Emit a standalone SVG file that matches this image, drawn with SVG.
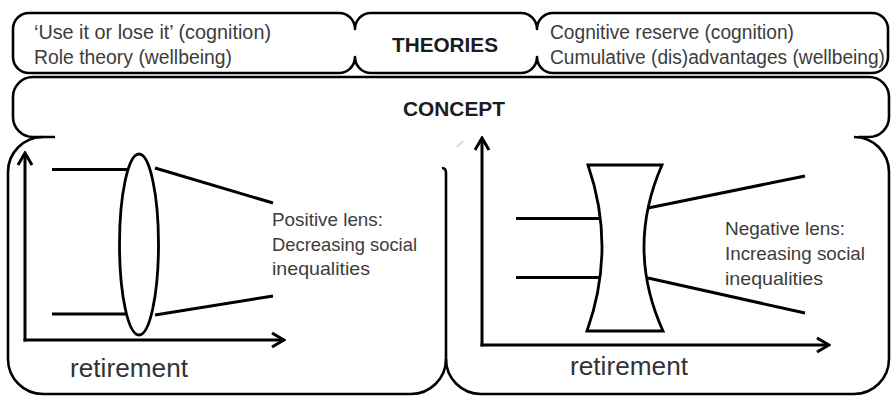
<svg xmlns="http://www.w3.org/2000/svg" width="891" height="396" viewBox="0 0 891 396">
<style>
.frame{fill:none;stroke:#000;stroke-width:2.6;stroke-linejoin:round}
.ln{fill:none;stroke:#000;stroke-width:3;stroke-linecap:butt}
.lens{fill:#fff;stroke:#000;stroke-width:2.8;stroke-linejoin:miter}
.t{font-family:"Liberation Sans",Arial,sans-serif;fill:#3c3c3c}
.body{font-size:19.5px}
.lab{font-size:18.5px}
.ret{font-size:26px;fill:#333}
.title{font-family:"Liberation Sans",Arial,sans-serif;font-size:20px;font-weight:bold;fill:#1c1c1c}
</style>
<defs>
<marker id="arr" viewBox="-14 -9 16 18" markerWidth="16" markerHeight="18" refX="0" refY="0" orient="auto" markerUnits="userSpaceOnUse">
<path d="M-12,-7 L0,0 L-12,7" fill="none" stroke="#000" stroke-width="3" stroke-linejoin="miter"/>
</marker>
</defs>
<rect x="0" y="0" width="891" height="396" fill="#fff"/>

<g id="theories">
<path class="frame" d="M29,13 H339 A16 16 0 0 1 355,29 A16 16 0 0 1 371,13 H521 A16 16 0 0 1 537,29 A16 16 0 0 1 553,13 H872 A16 16 0 0 1 888,29 V57 A16 16 0 0 1 872,73 H553 A16 16 0 0 1 537,57 A16 16 0 0 1 521,73 H371 A16 16 0 0 1 355,57 A16 16 0 0 1 339,73 H29 A16 16 0 0 1 13,57 V29 A16 16 0 0 1 29,13 Z"/>
<text class="t body" x="34" y="39" textLength="237" lengthAdjust="spacingAndGlyphs">‘Use it or lose it’ (cognition)</text>
<text class="t body" x="34" y="64" textLength="198" lengthAdjust="spacingAndGlyphs">Role theory (wellbeing)</text>
<text class="title" x="392" y="52.3" textLength="106" lengthAdjust="spacingAndGlyphs">THEORIES</text>
<text class="t body" x="550" y="39" textLength="244" lengthAdjust="spacingAndGlyphs">Cognitive reserve (cognition)</text>
<text class="t body" x="550" y="64" textLength="335" lengthAdjust="spacingAndGlyphs">Cumulative (dis)advantages (wellbeing)</text>
</g>

<g id="concept">
<path class="frame" d="M55,137 H33 A20 20 0 0 1 13,117 V97 A20 20 0 0 1 33,77 H869 A20 20 0 0 1 889,97 V117 A20 20 0 0 1 869,137 H858"/>
<text class="title" x="403" y="115.7" textLength="102" lengthAdjust="spacingAndGlyphs">CONCEPT</text>
</g>

<g id="positive-panel">
<path class="frame" d="M43,137 A35 35 0 0 0 8,172 V359 A35 35 0 0 0 43,394 H411 A35 35 0 0 0 446,359"/>
<path class="frame" d="M442,168 Q446,168 446,173 V359"/>
<ellipse class="lens" cx="139" cy="244.5" rx="19.5" ry="90.5"/>
<text class="t lab" x="272" y="225.5" textLength="111" lengthAdjust="spacingAndGlyphs">Positive lens:</text>
<text class="t lab" x="272" y="250.5" textLength="145" lengthAdjust="spacingAndGlyphs">Decreasing social</text>
<text class="t lab" x="272" y="275" textLength="98" lengthAdjust="spacingAndGlyphs">inequalities</text>
<text class="t ret" x="70" y="376.5" textLength="118" lengthAdjust="spacingAndGlyphs">retirement</text>
</g>

<g id="negative-panel">
<path class="frame" d="M446,359 A35 35 0 0 0 481,394 H854 A35 35 0 0 0 889,359 V172 A35 35 0 0 0 854,137"/>
<path d="M457,147 L463,141" fill="none" stroke="#c8c8c8" stroke-width="1.5"/>
<path class="lens" d="M588,165 H662 Q625.5,248 663,331 H587 Q616.5,248 588,165 Z"/>
<text class="t lab" x="725" y="235" textLength="120" lengthAdjust="spacingAndGlyphs">Negative lens:</text>
<text class="t lab" x="725" y="260" textLength="140" lengthAdjust="spacingAndGlyphs">Increasing social</text>
<text class="t lab" x="725" y="284.5" textLength="98" lengthAdjust="spacingAndGlyphs">inequalities</text>
<text class="t ret" x="570" y="375" textLength="118" lengthAdjust="spacingAndGlyphs">retirement</text>
</g>

<g id="connectors">
<line class="ln" x1="25" y1="341.5" x2="25" y2="153" marker-end="url(#arr)"/>
<line class="ln" x1="23.5" y1="340" x2="284" y2="340" marker-end="url(#arr)"/>
<line class="ln" x1="52" y1="169.5" x2="127" y2="169.5"/>
<line class="ln" x1="52" y1="314" x2="127" y2="314"/>
<line class="ln" x1="155" y1="168" x2="273" y2="203"/>
<line class="ln" x1="155" y1="315" x2="273" y2="296"/>
<line class="ln" x1="482" y1="346.5" x2="482" y2="138" marker-end="url(#arr)"/>
<line class="ln" x1="480.5" y1="345" x2="829" y2="345" marker-end="url(#arr)"/>
<line class="ln" x1="516" y1="218.5" x2="600" y2="218.5"/>
<line class="ln" x1="516" y1="277.5" x2="601" y2="277.5"/>
<line class="ln" x1="648" y1="208" x2="805" y2="176"/>
<line class="ln" x1="648" y1="278" x2="805" y2="313"/>
</g>
</svg>
